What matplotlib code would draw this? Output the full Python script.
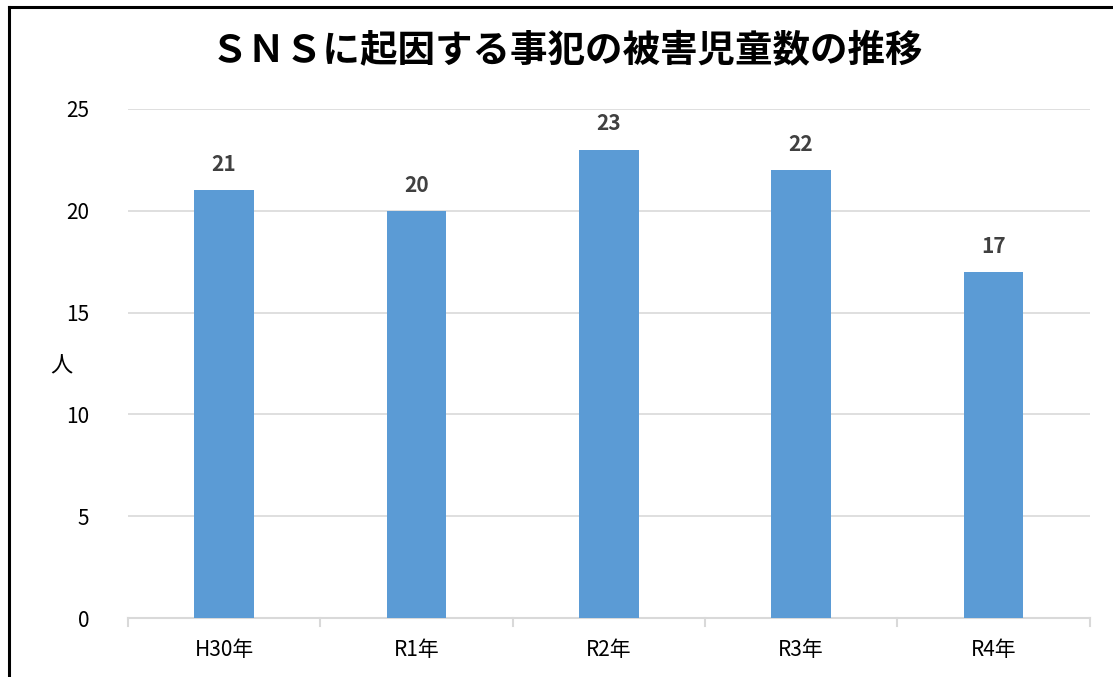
import matplotlib
matplotlib.use('Agg')
import matplotlib.pyplot as plt
from matplotlib.lines import Line2D

plt.rcParams['font.family'] = ['Noto Sans CJK JP', 'DejaVu Sans']

years = ['H30年', 'R1年', 'R2年', 'R3年', 'R4年']
victims = [21, 20, 23, 22, 17]
yticks = [0, 5, 10, 15, 20, 25]

fig = plt.figure(figsize=(11.13, 6.77), dpi=100)
ax = fig.add_axes([0.115, 0.087, 0.864, 0.752])

x = range(len(years))
ax.bar(x, victims, width=0.31, color='#5B9BD5', zorder=3)

for i, v in zip(x, victims):
    ax.text(i, v + 0.75, str(v), ha='center', va='bottom', fontsize=15,
            fontweight='bold', color='#404040')

ax.set_xlim(-0.5, len(years) - 0.5)
ax.set_ylim(0, 25)
ax.set_yticks(yticks)
ax.set_yticklabels([str(t) for t in yticks], fontsize=15)
ax.set_xticks(x)
ax.set_xticklabels(years, fontsize=15)
ax.tick_params(axis='y', length=0, pad=28)
ax.tick_params(axis='x', length=0, pad=15)

# category separator ticks on x axis
for b in [i - 0.5 for i in range(len(years) + 1)]:
    ax.plot([b, b], [0, -0.4], color='#D9D9D9', lw=1.5, clip_on=False, zorder=2)

ax.grid(axis='y', color='#D9D9D9', lw=1.2, zorder=0)
for s in ['top', 'right', 'left']:
    ax.spines[s].set_visible(False)
ax.spines['bottom'].set_color('#D9D9D9')
ax.spines['bottom'].set_linewidth(1.5)

fig.text(0.055, 0.46, '人', fontsize=16, ha='center', va='center')
fig.text(0.509, 0.925, 'ＳＮＳに起因する事犯の被害児童数の推移', fontsize=27,
         fontweight='bold', ha='center', va='center')

# outer frame (left and top)
fig.add_artist(Line2D([0.008, 0.008], [0, 0.99], color='black', lw=2.2))
fig.add_artist(Line2D([0.008, 1.0], [0.99, 0.99], color='black', lw=2.2))

fig.savefig('out.png', dpi=100)
